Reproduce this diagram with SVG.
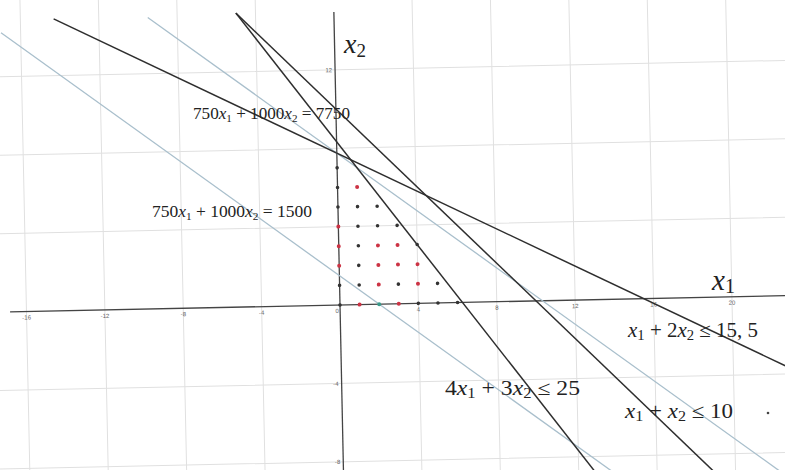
<svg xmlns="http://www.w3.org/2000/svg" width="785" height="470" viewBox="0 0 785 470">
<style>
.grid{stroke:#e0e0e0;stroke-width:1;fill:none}
.axis{stroke:#444;stroke-width:1.3;fill:none}
.dark{stroke:#2e2e2e;stroke-width:1.5;fill:none}
.light{stroke:#a9bfcc;stroke-width:1.3;fill:none}
.tick{font-family:"Liberation Sans",Arial,sans-serif;font-size:6px;fill:#666}
.lbl{font-family:"Liberation Serif","Times New Roman",serif;fill:#222}
.it{font-style:italic}
.r{fill:#cc3344}
.k{fill:#333}
.t{fill:#3a9a8a}
</style>
<rect width="785" height="470" fill="#fff"/>
<g transform="rotate(-1.2 340 305)">
  <g id="grid">
    <path class="grid" d="M26.4 -30V500M104.8 -30V500M183.2 -30V500M261.6 -30V500M418.4 -30V500M496.8 -30V500M575.2 -30V500M653.6 -30V500M732 -30V500M810.4 -30V500"/>
    <path class="grid" d="M-20 461.8H820M-20 383.4H820M-20 226.6H820M-20 148.2H820M-20 69.8H820"/>
  </g>
  <g id="axes">
    <line class="axis" x1="10" y1="305" x2="800" y2="305"/>
    <line class="axis" x1="340" y1="12" x2="340" y2="480"/>
    <g class="tick" text-anchor="middle">
      <text x="26.4" y="313">-16</text>
      <text x="104.8" y="313">-12</text>
      <text x="183.2" y="313">-8</text>
      <text x="261.6" y="313">-4</text>
      <text x="337" y="313">0</text>
      <text x="418.4" y="313">4</text>
      <text x="496.8" y="313">8</text>
      <text x="575.2" y="313">12</text>
      <text x="653.6" y="313">16</text>
      <text x="732" y="313">20</text>
    </g>
    <g class="tick" text-anchor="end">
      <text x="337" y="72">12</text>
      <text x="337" y="386">-4</text>
      <text x="337" y="464">-8</text>
    </g>
  </g>
  <g id="connectors">
    <line id="c-7750" class="light" x1="153.8" y1="13.45" x2="849.6" y2="535.3"/>
    <line id="c-1500" class="light" x1="6.8" y1="25.7" x2="653.6" y2="510.8"/>
    <line id="c-15-5" class="dark" x1="59.7" y1="12.96" x2="810.4" y2="388.3"/>
    <line id="c-25" class="dark" x1="242" y1="11" x2="624.2" y2="520.6"/>
    <line id="c-10" class="dark" x1="242" y1="11" x2="751.6" y2="520.6"/>
  </g>
  <g id="points">
    <circle class="k" cx="340" cy="167.8" r="1.8"/>
    <circle class="k" cx="340" cy="187.4" r="1.8"/>
    <circle class="r" cx="359.6" cy="187.4" r="2"/>
    <circle class="k" cx="340" cy="207" r="1.8"/>
    <circle class="k" cx="359.6" cy="207" r="1.8"/>
    <circle class="k" cx="379.2" cy="207" r="1.8"/>
    <circle class="r" cx="340" cy="226.6" r="2"/>
    <circle class="k" cx="359.6" cy="226.6" r="1.8"/>
    <circle class="k" cx="379.2" cy="226.6" r="1.8"/>
    <circle class="k" cx="398.8" cy="226.6" r="1.8"/>
    <circle class="r" cx="340" cy="246.2" r="2"/>
    <circle class="k" cx="359.6" cy="246.2" r="1.8"/>
    <circle class="r" cx="379.2" cy="246.2" r="2"/>
    <circle class="r" cx="398.8" cy="246.2" r="2"/>
    <circle class="k" cx="418.4" cy="246.2" r="1.8"/>
    <circle class="r" cx="340" cy="265.8" r="2"/>
    <circle class="k" cx="359.6" cy="265.8" r="1.8"/>
    <circle class="r" cx="379.2" cy="265.8" r="2"/>
    <circle class="r" cx="398.8" cy="265.8" r="2"/>
    <circle class="r" cx="418.4" cy="265.8" r="2"/>
    <circle class="k" cx="340" cy="285.4" r="1.8"/>
    <circle class="k" cx="359.6" cy="285.4" r="1.8"/>
    <circle class="r" cx="379.2" cy="285.4" r="2"/>
    <circle class="k" cx="398.8" cy="285.4" r="1.8"/>
    <circle class="r" cx="418.4" cy="285.4" r="2"/>
    <circle class="k" cx="438" cy="285.4" r="1.8"/>
    <circle class="k" cx="340" cy="305" r="1.8"/>
    <circle class="r" cx="359.6" cy="305" r="2"/>
    <circle class="t" cx="379.2" cy="305" r="2"/>
    <circle class="r" cx="398.8" cy="305" r="2"/>
    <circle class="k" cx="418.4" cy="305" r="1.8"/>
    <circle class="k" cx="438" cy="305" r="1.8"/>
    <circle class="k" cx="457.6" cy="305" r="1.8"/>
  </g>
</g>
<g id="label-x2"><text class="lbl" x="344" y="53" font-size="28"><tspan class="it">x</tspan><tspan font-size="19" dy="4">2</tspan></text></g>
<g id="label-x1"><text class="lbl" x="712" y="290" font-size="29"><tspan class="it">x</tspan><tspan font-size="20" dy="3">1</tspan></text></g>
<g id="label-7750"><text class="lbl" x="193" y="119" font-size="17" textLength="157" lengthAdjust="spacingAndGlyphs">750<tspan class="it">x</tspan><tspan font-size="11" dy="3">1</tspan><tspan dy="-3"> + 1000</tspan><tspan class="it">x</tspan><tspan font-size="11" dy="3">2</tspan><tspan dy="-3"> = 7750</tspan></text></g>
<g id="label-1500"><text class="lbl" x="152" y="217" font-size="17" textLength="160" lengthAdjust="spacingAndGlyphs">750<tspan class="it">x</tspan><tspan font-size="11" dy="3">1</tspan><tspan dy="-3"> + 1000</tspan><tspan class="it">x</tspan><tspan font-size="11" dy="3">2</tspan><tspan dy="-3"> = 1500</tspan></text></g>
<g id="label-c155"><text class="lbl" x="628" y="337" font-size="20" textLength="130" lengthAdjust="spacingAndGlyphs"><tspan class="it">x</tspan><tspan font-size="14" dy="3">1</tspan><tspan dy="-3"> + 2</tspan><tspan class="it">x</tspan><tspan font-size="14" dy="3">2</tspan><tspan dy="-3"> ≤ 15, 5</tspan></text></g>
<g id="label-c25"><text class="lbl" x="445" y="395" font-size="20" textLength="135" lengthAdjust="spacingAndGlyphs">4<tspan class="it">x</tspan><tspan font-size="14" dy="3">1</tspan><tspan dy="-3"> + 3</tspan><tspan class="it">x</tspan><tspan font-size="14" dy="3">2</tspan><tspan dy="-3"> ≤ 25</tspan></text></g>
<g id="label-c10"><text class="lbl" x="625" y="418" font-size="20" textLength="108" lengthAdjust="spacingAndGlyphs"><tspan class="it">x</tspan><tspan font-size="14" dy="3">1</tspan><tspan dy="-3"> + </tspan><tspan class="it">x</tspan><tspan font-size="14" dy="3">2</tspan><tspan dy="-3"> ≤ 10</tspan></text></g>
<circle cx="768" cy="413" r="1.3" fill="#444"/>
</svg>
